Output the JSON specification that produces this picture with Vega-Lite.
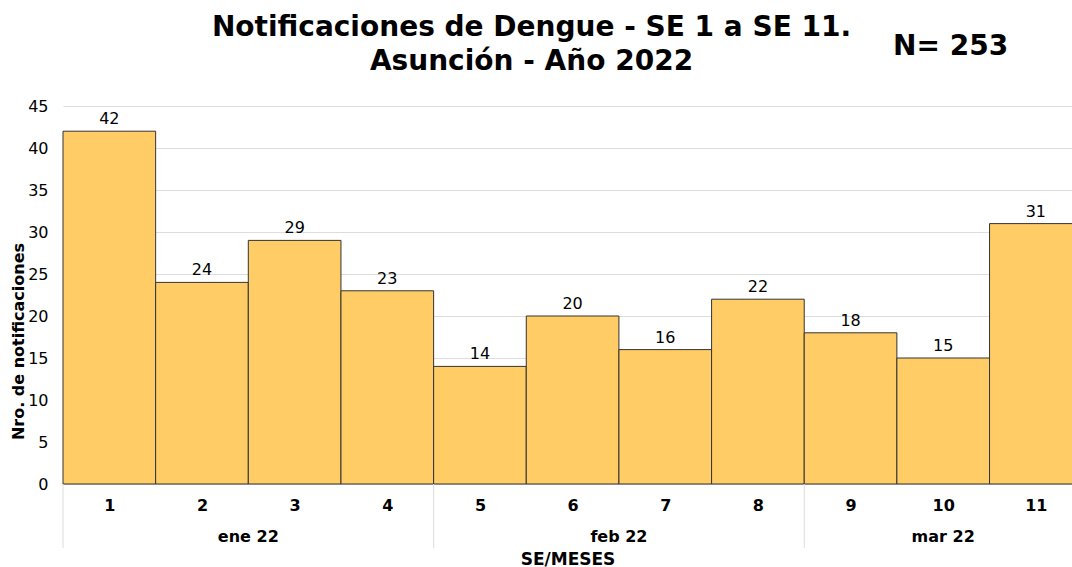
{
  "$schema": "https://vega.github.io/schema/vega-lite/v6.json",
  "autosize": "none",
  "width": 1009,
  "height": 378,
  "padding": {"left": 63, "top": 106, "right": 0, "bottom": 83},
  "background": "white",
  "config": {
    "font": "DejaVu Sans",
    "view": {"stroke": null}
  },
  "title": {
    "text": ["Notificaciones de Dengue - SE 1 a SE 11.", "Asunción - Año 2022"],
    "font": "DejaVu Sans",
    "fontSize": 28,
    "fontWeight": "bold",
    "color": "black",
    "anchor": "middle",
    "frame": "group",
    "dx": -36,
    "offset": -43,
    "lineHeight": 34
  },
  "data": {
    "values": [
      {"semana": 1, "mes": "ene 22", "casos": 42},
      {"semana": 2, "mes": "ene 22", "casos": 24},
      {"semana": 3, "mes": "ene 22", "casos": 29},
      {"semana": 4, "mes": "ene 22", "casos": 23},
      {"semana": 5, "mes": "feb 22", "casos": 14},
      {"semana": 6, "mes": "feb 22", "casos": 20},
      {"semana": 7, "mes": "feb 22", "casos": 16},
      {"semana": 8, "mes": "feb 22", "casos": 22},
      {"semana": 9, "mes": "mar 22", "casos": 18},
      {"semana": 10, "mes": "mar 22", "casos": 15},
      {"semana": 11, "mes": "mar 22", "casos": 31}
    ]
  },
  "encoding": {
    "x": {
      "field": "semana",
      "type": "quantitative",
      "scale": {"domain": [0.5, 11.39], "nice": false, "zero": false, "padding": 0},
      "axis": {
        "values": [1, 2, 3, 4, 5, 6, 7, 8, 9, 10, 11],
        "grid": false,
        "ticks": false,
        "domain": false,
        "labelFont": "DejaVu Sans",
        "labelFontSize": 16,
        "labelFontWeight": "bold",
        "labelColor": "black",
        "labelPadding": 13,
        "labelFlush": false,
        "labelOverlap": false,
        "title": "SE/MESES",
        "titleFont": "DejaVu Sans",
        "titleFontSize": 17,
        "titleFontWeight": "bold",
        "titleColor": "black",
        "titlePadding": 38
      }
    }
  },
  "layer": [
    {
      "mark": {"type": "bar", "width": 92.65, "fill": "#FFCC66", "stroke": "#333333", "strokeWidth": 1},
      "encoding": {
        "y": {
          "field": "casos",
          "type": "quantitative",
          "scale": {"domain": [0, 45], "nice": false},
          "axis": {
            "values": [0, 5, 10, 15, 20, 25, 30, 35, 40, 45],
            "ticks": false,
            "domain": false,
            "gridColor": "#dddddd",
            "labelFont": "DejaVu Sans",
            "labelFontSize": 16,
            "labelColor": "black",
            "labelPadding": 15,
            "title": "Nro. de notificaciones",
            "titleFont": "DejaVu Sans",
            "titleFontSize": 16,
            "titleFontWeight": "bold",
            "titleColor": "black",
            "titlePadding": 1,
            "titleY": 235
          }
        }
      }
    },
    {
      "mark": {"type": "text", "baseline": "bottom", "dy": -4, "fontSize": 16, "color": "black", "font": "DejaVu Sans"},
      "encoding": {
        "y": {"field": "casos", "type": "quantitative"},
        "text": {"field": "casos", "type": "quantitative"}
      }
    },
    {
      "transform": [{"aggregate": [{"op": "mean", "field": "semana", "as": "centro"}], "groupby": ["mes"]}],
      "mark": {"type": "text", "baseline": "middle", "dy": 53, "fontSize": 16, "fontWeight": "bold", "color": "black", "font": "DejaVu Sans"},
      "encoding": {
        "x": {"field": "centro", "type": "quantitative"},
        "y": {"datum": 0},
        "text": {"field": "mes", "type": "nominal"}
      }
    },
    {
      "transform": [{"aggregate": [{"op": "min", "field": "semana", "as": "inicio"}], "groupby": ["mes"]}],
      "mark": {"type": "rule", "color": "#dddddd", "strokeWidth": 1, "xOffset": -46.3, "y2Offset": 64},
      "encoding": {
        "x": {"field": "inicio", "type": "quantitative"},
        "y": {"datum": 0},
        "y2": {"datum": 0}
      }
    },
    {
      "data": {"values": [{"etiqueta": "N= 253", "x": 10.08, "y": 52}]},
      "mark": {"type": "text", "fontSize": 28, "fontWeight": "bold", "color": "black", "font": "DejaVu Sans", "baseline": "middle"},
      "encoding": {
        "x": {"field": "x", "type": "quantitative"},
        "y": {"field": "y", "type": "quantitative"},
        "text": {"field": "etiqueta", "type": "nominal"}
      }
    }
  ]
}
